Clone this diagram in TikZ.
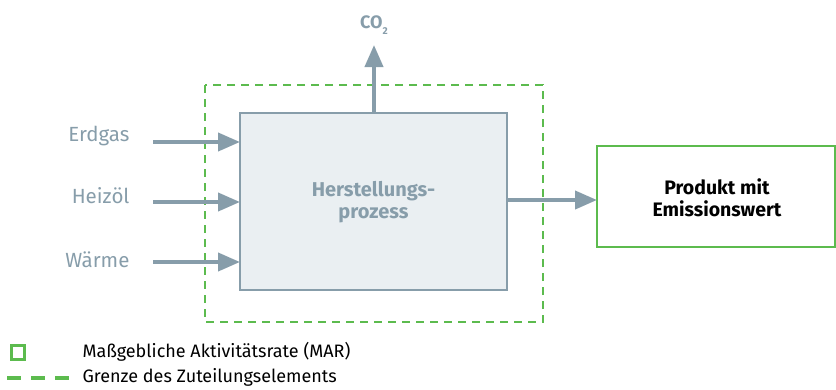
\documentclass[tikz,border=0pt]{standalone}
\usepackage{fontspec}
\setmainfont{Fira Sans}
\usetikzlibrary{arrows.meta}
\definecolor{flowgray}{HTML}{879DAA}
\definecolor{procfill}{HTML}{EAEFF2}
\definecolor{margreen}{HTML}{5CBB4E}
\tikzset{
  flow/.style={draw=flowgray, line width=4pt, -{Triangle[length=22pt,width=18pt]}},
  inlabel/.style={anchor=east, text=flowgray, font=\fontsize{20.5}{24}\selectfont},
  procbox/.style={draw=flowgray, fill=procfill, line width=1.5pt},
  prodbox/.style={draw=margreen, line width=1.6pt},
  boundary/.style={draw=margreen, line width=2pt, dash pattern=on 8pt off 6pt},
  legendtext/.style={anchor=west, font=\fontsize{18}{21}\selectfont}
}
\begin{document}
\begin{tikzpicture}[x=1pt,y=-1pt]
\useasboundingbox (0,0) rectangle (836,389);
% allocation element boundary
\draw[boundary] (205,85) rectangle (543,322);
% production process
\path[procbox] (240,113) rectangle (507,290);
\node[font=\bfseries\fontsize{20}{22}\selectfont, text=flowgray, align=center] (proc) at (373.5,202) {Herstellungs-\\prozess};
\coordinate (ptop) at (374,113);
\coordinate (pin1) at (240,142);
\coordinate (pin2) at (240,202);
\coordinate (pin3) at (240,262);
\coordinate (pout) at (507,200);
% product
\path[prodbox] (597,146) rectangle (835,247);
\coordinate (prodin) at (597,200);
\node[font=\bfseries\fontsize{19.5}{22}\selectfont, align=center] (prod) at (717,198) {Produkt mit\\Emissionswert};
% inputs
\node[inlabel] (erdgas) at (133,136) {Erdgas};
\node[inlabel] (heizoel) at (133,196) {Heizöl};
\node[inlabel] (waerme) at (133,260) {Wärme};
\coordinate (s1) at (153,142);
\coordinate (s2) at (153,202);
\coordinate (s3) at (153,262);
\draw[flow] (s1) -- (pin1);
\draw[flow] (s2) -- (pin2);
\draw[flow] (s3) -- (pin3);
% CO2 output
\node[font=\bfseries\fontsize{18}{20}\selectfont, text=flowgray] (co2) at (374,25) {CO\raisebox{-0.55ex}{\fontsize{10}{12}\selectfont 2}};
\coordinate (co2end) at (374,45);
\draw[flow] (ptop) -- (co2end);
% product output
\draw[flow] (pout) -- (prodin);
% legend
\draw[draw=margreen, line width=3pt] (11.5,345.5) rectangle (24.5,359.5);
\node[legendtext] (leg1) at (79,352) {Maßgebliche Aktivitätsrate (MAR)};
\draw[boundary, line width=4pt, dash pattern=on 14pt off 10pt] (7,378) -- (72,378);
\node[legendtext] (leg2) at (79,377) {Grenze des Zuteilungselements};
\end{tikzpicture}
\end{document}
